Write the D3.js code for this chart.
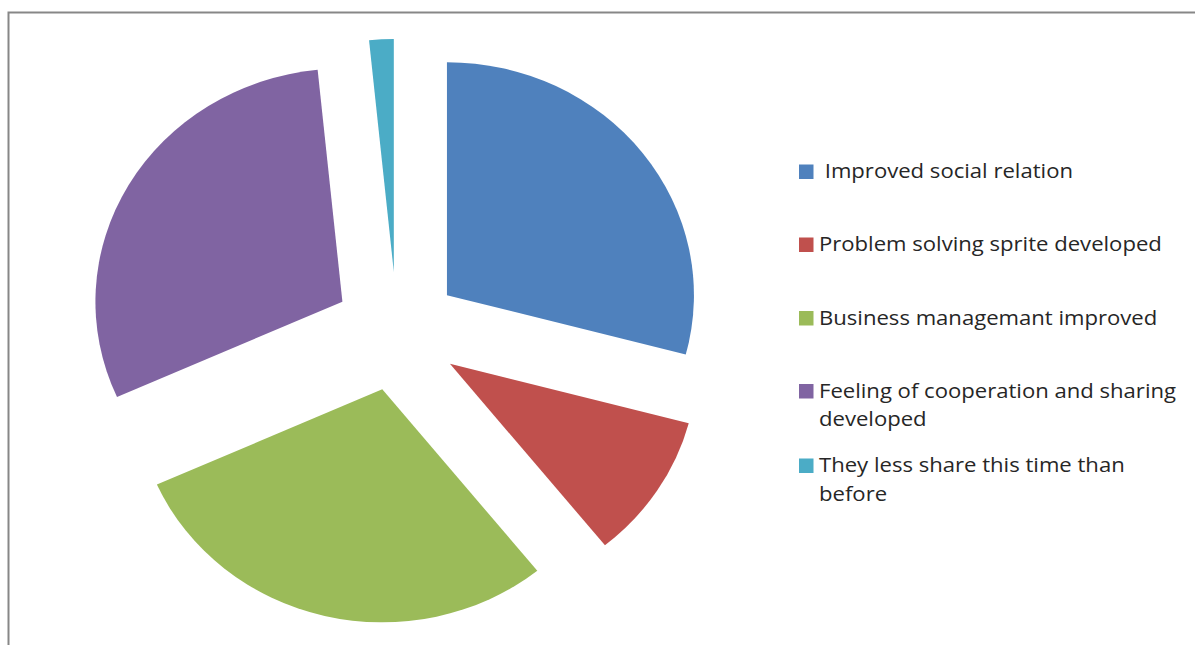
<!DOCTYPE html>
<html>
    <head>
        <meta charset="utf-8">
        <title>Exploded pie</title>
        <style>
            body {
                margin: 0;
                background-color: white;
            }
            svg text {
                font-family: "Open Sans", "Noto Sans", sans-serif;
            }
        </style>
    </head>
    <body>
        <script src="https://d3js.org/d3.v7.min.js"></script>
        <script>

            const categories = [
                " Improved social relation",
                "Problem solving sprite developed",
                "Business managemant improved",
                "Feeling of cooperation and sharing developed",
                "They less share this time than before"
            ];
            const values = [29.1, 10.1, 29.1, 30.1, 1.6];
            const colors = ["#4F81BD", "#C0504D", "#9BBB59", "#8064A2", "#4BACC6"];

            const W = 1195, H = 645;
            const CX = 397, CY = 331.5;
            const R = 233;          // vertical radius
            const STRETCH = 1.06;   // picture is a little wider than tall
            const EXPLODE = 59.5;

            var svg = d3.select("body").append("svg")
                .attr("width", W).attr("height", H);

            // chart area border
            svg.append("rect")
                .attr("x", 8.5).attr("y", 12.5)
                .attr("width", 1300).attr("height", 800)
                .attr("fill", "none")
                .attr("stroke", "#878787")
                .attr("stroke-width", 2);

            var pie = d3.pie().sort(null).value(d => d);
            var arc = d3.arc().innerRadius(0).outerRadius(R);

            var pieG = svg.append("g")
                .attr("transform", "translate(" + CX + "," + CY + ") scale(" + STRETCH + ",1)");

            pieG.selectAll("path")
                .data(pie(values))
                .enter().append("path")
                .attr("d", arc)
                .attr("fill", (d, i) => colors[i])
                .attr("transform", d => {
                    let mid = (d.startAngle + d.endAngle) / 2;
                    return "translate(" + (EXPLODE * Math.sin(mid)) + "," + (-EXPLODE * Math.cos(mid)) + ")";
                });

            // legend
            const LEG_X = 799, LEG_TEXT_X = 819, WRAP = 362;
            const FONT = "19.5px";
            const legY = [164.5, 237.5, 311, 384, 458.5];
            var leg = svg.append("g");

            // the reference font runs wider than anything installed: stretch to fit
            let probe = svg.append("text").attr("font-size", FONT).text(categories[1]);
            const SX = 343 / probe.node().getComputedTextLength();
            probe.remove();

            categories.forEach((name, i) => {
                leg.append("rect")
                    .attr("x", LEG_X).attr("y", legY[i])
                    .attr("width", 14.5).attr("height", 14.5)
                    .attr("fill", colors[i]);

                let t = leg.append("text")
                    .attr("x", 0)
                    .attr("y", 0)
                    .attr("transform", "translate(" + LEG_TEXT_X + "," + (legY[i] + 13.5) + ") scale(" + SX + ",1)")
                    .attr("font-size", FONT)
                    .attr("fill", "#262626")
                    .attr("xml:space", "preserve");

                // simple word wrap
                let words = name.split(" ");
                let line = [];
                let tspan = t.append("tspan").attr("x", 0);
                words.forEach(w => {
                    line.push(w);
                    tspan.text(line.join(" "));
                    if (tspan.node().getComputedTextLength() * SX > WRAP && line.length > 1) {
                        line.pop();
                        tspan.text(line.join(" "));
                        line = [w];
                        tspan = t.append("tspan").attr("x", 0).attr("dy", 29).text(w);
                    }
                });
            });
        </script>
    </body>
</html>
